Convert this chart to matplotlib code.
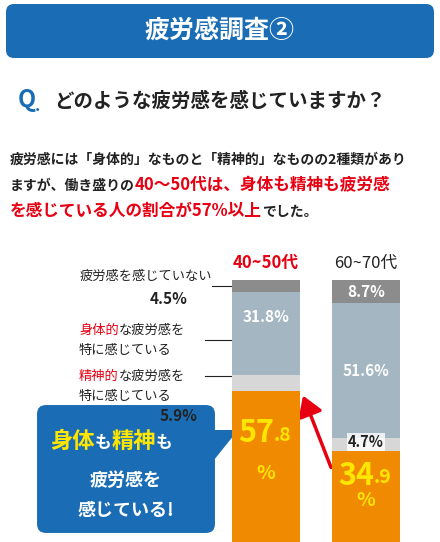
import matplotlib
matplotlib.use("Agg")
import matplotlib.pyplot as plt
from matplotlib.patches import FancyBboxPatch, Polygon, FancyArrowPatch

plt.rcParams['font.family'] = ['Noto Sans CJK JP', 'DejaVu Sans']

groups = ['40~50代', '60~70代']
tired_mental = [5.9, 4.7]
tired_physical = [31.8, 51.6]
not_tired = [4.5, 8.7]
both = [57.8, 34.9]

BLUE = '#1a6db5'
RED = '#e60012'
ORANGE = '#f08a00'
BLUEGRAY = '#a4b6c1'
LIGHT = '#d7d7d7'
DARK = '#8c8c8c'
TXT = '#222222'

W, H = 440, 542
fig = plt.figure(figsize=(4.4, 5.42), dpi=100)
ax = fig.add_axes([0, 0, 1, 1])
ax.set_xlim(0, W)
ax.set_ylim(H, 0)
ax.axis('off')
renderer = fig.canvas.get_renderer()


def run_text(x, y, pieces, **kw):
    # draw text pieces one after another on the same baseline
    for s, color, size in pieces:
        t = ax.text(x, y, s, color=color, fontsize=size, ha='left', va='baseline', **kw)
        bb = t.get_window_extent(renderer)
        x += bb.width * W / fig.bbox.width
    return x


# title banner
ax.add_patch(FancyBboxPatch((6, 4), 428, 54, boxstyle='round,pad=0,rounding_size=8', fc=BLUE, ec='none'))
ax.text(220, 31, '疲労感調査②', color='white', fontsize=18, fontweight='bold', ha='center', va='center')

ax.text(18, 100, 'Q', color=BLUE, fontsize=17, fontweight='bold', ha='left', va='center')
ax.text(35, 106, '.', color=BLUE, fontsize=12, fontweight='bold', ha='left', va='center')
ax.text(54, 101, 'どのような疲労感を感じていますか？', color=TXT, fontsize=14, fontweight='bold', ha='left', va='center')

run_text(10, 164, [('疲労感には「身体的」なものと「精神的」なものの2種類があり', TXT, 10)], fontweight='bold')
run_text(10, 190, [('ますが、働き盛りの', TXT, 10), ('40～50代は、身体も精神も疲労感', RED, 12)], fontweight='bold')
run_text(10, 216, [('を感じている人の割合が57%以上', RED, 12), ('でした。', TXT, 10)], fontweight='bold')

# bars
bx = fig.add_axes([216 / W, 0, 200 / W, (H - 280) / H])
bx.set_xlim(-0.5, 1.5)
bx.set_ylim(0, 100)
bx.axis('off')
x = [0, 1]
b1 = both
b2 = [a + b for a, b in zip(b1, tired_mental)]
b3 = [a + b for a, b in zip(b2, tired_physical)]
bx.bar(x, both, width=0.68, color=ORANGE)
bx.bar(x, tired_mental, bottom=b1, width=0.68, color=LIGHT)
bx.bar(x, tired_physical, bottom=b2, width=0.68, color=BLUEGRAY)
bx.bar(x, not_tired, bottom=b3, width=0.68, color=DARK)

bx.text(0, 103, groups[0], color=RED, fontsize=12, fontweight='bold', ha='center', va='bottom')
bx.text(1, 103, groups[1], color=TXT, fontsize=12, ha='center', va='bottom')
bx.text(1, b3[1] + not_tired[1] / 2, f'{not_tired[1]}%', color='white', fontsize=11, fontweight='bold', ha='center', va='center')
for i in x:
    yy = b2[i] + tired_physical[i] * 0.7 if i == 0 else b2[i] + tired_physical[i] / 2
    bx.text(i, yy, f'{tired_physical[i]}%', color='white', fontsize=11, fontweight='bold', ha='center', va='center')
bx.text(1, b1[1] + tired_mental[1] / 2 + 1, f'{tired_mental[1]}%', color=TXT, fontsize=10.5, fontweight='bold',
        ha='center', va='center', bbox=dict(fc='white', ec='none', pad=0.5, alpha=0.8))
for i in x:
    whole, frac = f'{both[i]}'.split('.')
    bx.text(i + 0.08, both[i] * 0.72, whole, color='#ffe600', fontsize=22, fontweight='bold', ha='right', va='center')
    bx.text(i + 0.08, both[i] * 0.70, '.' + frac, color='#ffe600', fontsize=14, fontweight='bold', ha='left', va='center')
    bx.text(i, both[i] * 0.45, '%', color='#ffe600', fontsize=14, fontweight='bold', ha='center', va='center')

# left labels
ax.text(212, 276, '疲労感を感じていない', color=TXT, fontsize=9.5, ha='right', va='center')
ax.text(150, 299, f'{not_tired[0]}%', color=TXT, fontsize=11, fontweight='bold', ha='left', va='center')
ax.plot([212, 240], [286, 286], color=TXT, lw=0.8)
ax.plot(240, 286, 'o', color=TXT, ms=3)
run_text(79, 334, [('身体的', RED, 9.5), ('な疲労感を', TXT, 9.5)])
ax.text(79, 350, '特に感じている', color=TXT, fontsize=9.5, ha='left', va='center')
ax.plot([205, 240], [340, 340], color=TXT, lw=0.8)
ax.plot(240, 340, 'o', color=TXT, ms=3)
run_text(79, 380, [('精神的', RED, 9.5), ('な疲労感を', TXT, 9.5)])
ax.text(79, 396, '特に感じている', color=TXT, fontsize=9.5, ha='left', va='center')
ax.plot([205, 240], [376, 376], color=TXT, lw=0.8)
ax.plot(240, 376, 'o', color=TXT, ms=3)
ax.text(160, 416, f'{tired_mental[0]}%', color=TXT, fontsize=11, fontweight='bold', ha='left', va='center')

# callout
ax.add_patch(FancyBboxPatch((36, 404), 180, 130, boxstyle='round,pad=0,rounding_size=10', fc=BLUE, ec='white', lw=1.5))
ax.add_patch(Polygon([[214, 430], [238, 430], [214, 460]], closed=True, fc=BLUE, ec='none'))
run_text(50, 448, [('身体', '#ffe600', 16), ('も', 'white', 12), ('精神', '#ffe600', 16), ('も', 'white', 12)],
         fontweight='bold')
ax.text(126, 480, '疲労感を', color='white', fontsize=13, fontweight='bold', ha='center', va='center')
ax.text(126, 510, '感じている!', color='white', fontsize=13, fontweight='bold', ha='center', va='center')

ax.add_patch(FancyArrowPatch((332, 470), (302, 393), arrowstyle='-|>,head_length=8,head_width=5',
                             color=RED, lw=2.5, mutation_scale=1.5))

fig.savefig('out.png', dpi=100, facecolor='white')
